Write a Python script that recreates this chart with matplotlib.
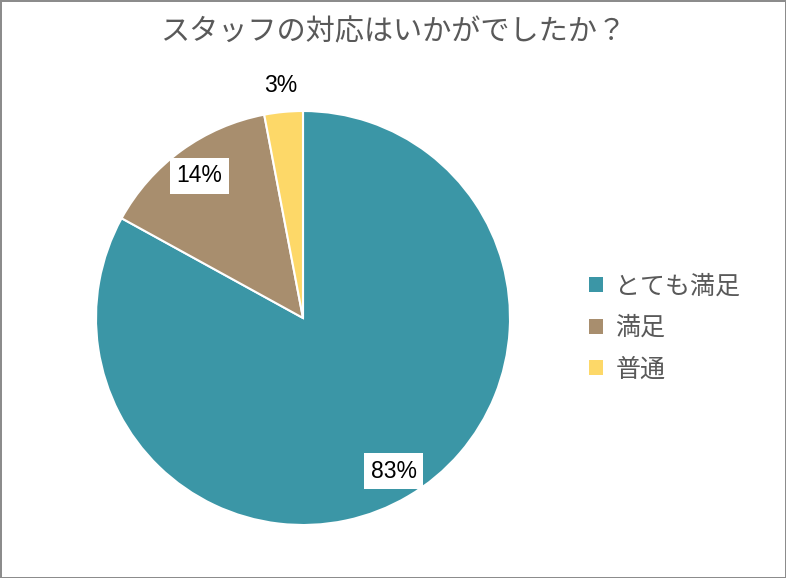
import numpy as np
import matplotlib
matplotlib.use("Agg")
import matplotlib.pyplot as plt

plt.rcParams['font.family'] = ['Noto Sans CJK JP', 'DejaVu Sans']

# data
title = "スタッフの対応はいかがでしたか？"
categories = ["とても満足", "満足", "普通"]
values = [83, 14, 3]
colors = ["#3B96A6", "#A88E6E", "#FDD868"]

W, H = 786, 578
fig = plt.figure(figsize=(W / 100, H / 100), dpi=100,
                 facecolor="white", edgecolor="#8c8c8c", linewidth=2)

# pie centre and radius in pixels
cx, cy, r = 303, 318, 207
ax = fig.add_axes([(cx - r) / W, (H - cy - r) / H, 2 * r / W, 2 * r / H])

wedges, _ = ax.pie(values, colors=colors, startangle=90, counterclock=False,
                   radius=1, wedgeprops=dict(edgecolor="white", linewidth=1.5))
ax.set_xlim(-1, 1)
ax.set_ylim(-1, 1)
ax.set_aspect("equal")
ax.axis("off")

# percentage labels
label_r = [0.86, 0.85, 1.13]
boxed = [True, True, False]
for w, v, lr, b in zip(wedges, values, label_r, boxed):
    ang = np.deg2rad((w.theta1 + w.theta2) / 2)
    x, y = lr * np.cos(ang), lr * np.sin(ang)
    bbox = dict(boxstyle="square,pad=0.28", fc="white", ec="none") if b else None
    ax.text(x, y, f"{v}%", ha="center", va="center", fontsize=16.5,
            family=["Liberation Sans", "DejaVu Sans"], color="black",
            bbox=bbox, clip_on=False)

fig.text(0.5, 1 - 32 / H, title, ha="center", va="center",
         fontsize=21, color="#595959")

# legend
leg = fig.legend(wedges, categories, loc="center left",
                 bbox_to_anchor=(589 / W, 1 - 328 / H), frameon=False,
                 fontsize=18, labelcolor="#595959", handlelength=0.56,
                 handleheight=0.56, handletextpad=0.5, labelspacing=0.62,
                 borderpad=0, borderaxespad=0)
for h in leg.legend_handles:
    h.set_edgecolor("none")

fig.savefig("out.png", dpi=100)
